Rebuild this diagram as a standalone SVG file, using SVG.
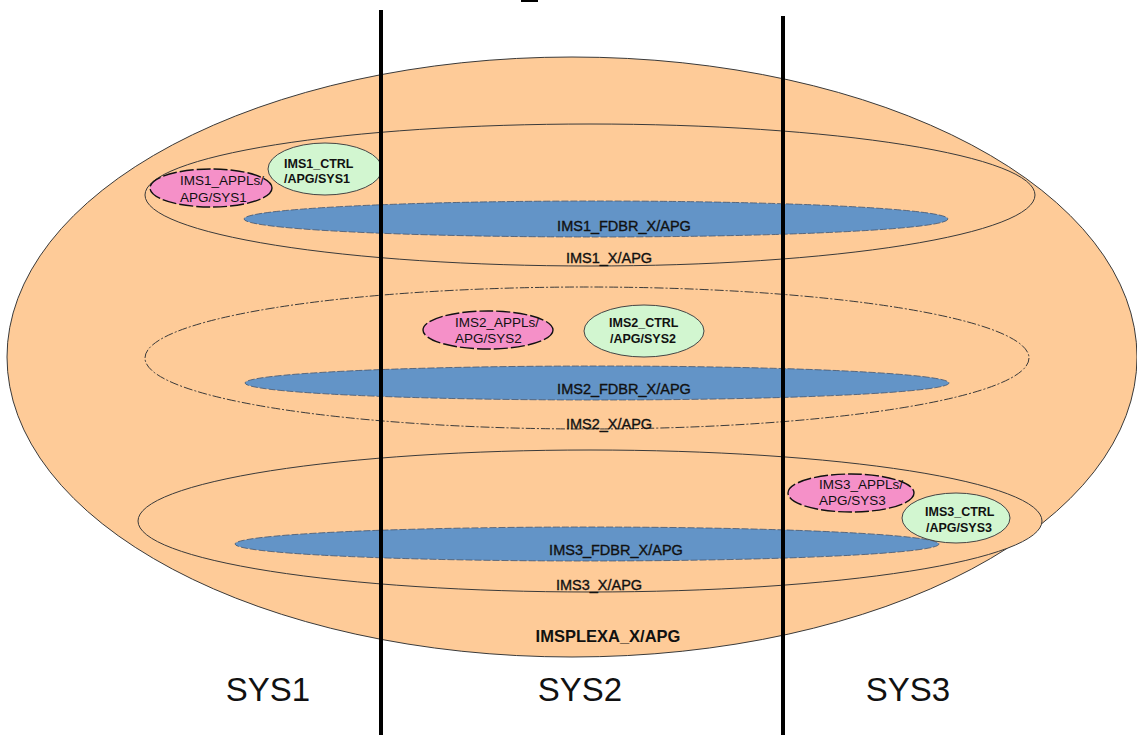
<svg xmlns="http://www.w3.org/2000/svg" width="1137" height="735" viewBox="0 0 1137 735">
<style>
.region{fill:#fecb98;stroke:#3a3a3a;stroke-width:1}
.dash{stroke-dasharray:9 2 2 2}
.fdbr{fill:#6394c7;stroke:#44566e;stroke-width:0.8;stroke-dasharray:7 2}
.appl{fill:#f590c8;stroke:#111;stroke-width:1.4;stroke-dasharray:14 3}
.ctrl{fill:#d2f6d0;stroke:#444;stroke-width:1}
text{font-family:"Liberation Sans",Arial,sans-serif;fill:#111}
.lbl{font-size:14.5px;text-anchor:middle;stroke:#111;stroke-width:0.35}
.ap{font-size:13.5px}
.ct{font-size:12.5px;font-weight:bold}
.sys{font-size:33px;text-anchor:middle}
.div{stroke:#000;stroke-width:4}
</style>
<rect x="0" y="0" width="1137" height="735" fill="#fff"/>
<rect x="521" y="0" width="17" height="2" fill="#000"/>
<g id="imsplexa">
<ellipse class="region" cx="572" cy="357" rx="565" ry="300"/>
<text x="608" y="642" style="font-size:16.5px;font-weight:bold;text-anchor:middle">IMSPLEXA_X/APG</text>
</g>
<g id="ims1">
<ellipse class="region" cx="590" cy="195" rx="445" ry="71"/>
<text class="lbl" x="609" y="263">IMS1_X/APG</text>
</g>
<g id="ims2">
<ellipse class="region dash" cx="587" cy="358" rx="442" ry="71"/>
<text class="lbl" x="609" y="429">IMS2_X/APG</text>
</g>
<g id="ims3">
<ellipse class="region" cx="590" cy="521" rx="452" ry="71"/>
<text class="lbl" x="599" y="590">IMS3_X/APG</text>
</g>
<g id="ims1_fdbr">
<ellipse class="fdbr" cx="596" cy="219" rx="352" ry="18"/>
<text class="lbl" x="624" y="231">IMS1_FDBR_X/APG</text>
</g>
<g id="ims2_fdbr">
<ellipse class="fdbr" cx="597" cy="383" rx="352" ry="17"/>
<text class="lbl" x="624" y="394">IMS2_FDBR_X/APG</text>
</g>
<g id="ims3_fdbr">
<ellipse class="fdbr" cx="587" cy="544" rx="352" ry="17"/>
<text class="lbl" x="616" y="555">IMS3_FDBR_X/APG</text>
</g>
<g id="ims1_appls">
<ellipse class="appl" cx="211" cy="188" rx="61" ry="19"/>
<text class="ap" x="180" y="185">IMS1_APPLs/</text>
<text class="ap" x="180" y="202">APG/SYS1</text>
</g>
<g id="ims1_ctrl">
<ellipse class="ctrl" cx="325" cy="169" rx="57" ry="26"/>
<text class="ct" x="284" y="168">IMS1_CTRL</text>
<text class="ct" x="284" y="183">/APG/SYS1</text>
</g>
<g id="ims2_appls">
<ellipse class="appl" cx="488" cy="330" rx="65" ry="19"/>
<text class="ap" x="455" y="327">IMS2_APPLs/</text>
<text class="ap" x="455" y="343">APG/SYS2</text>
</g>
<g id="ims2_ctrl">
<ellipse class="ctrl" cx="644" cy="331" rx="60" ry="26"/>
<text class="ct" x="609" y="327">IMS2_CTRL</text>
<text class="ct" x="610" y="343">/APG/SYS2</text>
</g>
<g id="ims3_appls">
<ellipse class="appl" cx="851" cy="493" rx="63" ry="19"/>
<text class="ap" x="819" y="489">IMS3_APPLs/</text>
<text class="ap" x="819" y="505">APG/SYS3</text>
</g>
<g id="ims3_ctrl">
<ellipse class="ctrl" cx="956" cy="518" rx="54" ry="25"/>
<text class="ct" x="925" y="516">IMS3_CTRL</text>
<text class="ct" x="926" y="532">/APG/SYS3</text>
</g>
<g id="connectors">
<line class="div" x1="381" y1="10" x2="381" y2="735"/>
<line class="div" x1="783" y1="16" x2="783" y2="735"/>
</g>
<g id="sys_labels">
<text class="sys" x="268" y="701">SYS1</text>
<text class="sys" x="580" y="701">SYS2</text>
<text class="sys" x="908" y="701">SYS3</text>
</g>
</svg>
